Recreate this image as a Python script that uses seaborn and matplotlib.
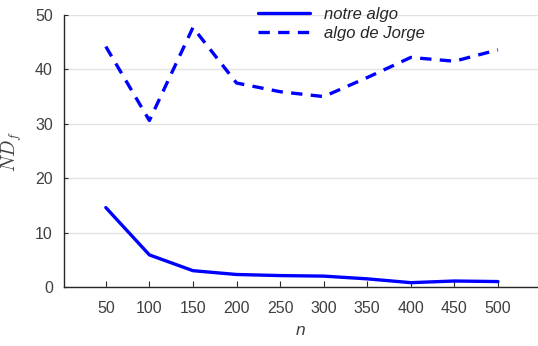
import matplotlib
matplotlib.use("Agg")
import matplotlib.pyplot as plt
import seaborn as sns
import pandas as pd

n_values = [50, 100, 150, 200, 250, 300, 350, 400, 450, 500]
notre_algo = [14.6, 5.9, 3.0, 2.3, 2.1, 2.0, 1.5, 0.8, 1.1, 1.0]
algo_jorge = [44.2, 30.6, 47.7, 37.5, 35.9, 35.0, 38.5, 42.2, 41.5, 43.6]
series_names = ["notre algo", "algo de Jorge"]
y_ticks = [0, 10, 20, 30, 40, 50]

df = pd.DataFrame({
    "n": n_values * 2,
    "val": notre_algo + algo_jorge,
    "serie": [series_names[0]] * len(n_values) + [series_names[1]] * len(n_values),
})

sns.set_style("white")
plt.rcParams["font.family"] = ["Liberation Sans", "DejaVu Sans"]
plt.rcParams["mathtext.fontset"] = "cm"

fig = plt.figure(figsize=(5.38, 3.46), dpi=100)
ax = fig.add_axes([64 / 538, 59 / 346, 474 / 538, 272 / 346])

sns.lineplot(data=df, x="n", y="val", hue="serie", style="serie",
             palette={series_names[0]: "#0000ff", series_names[1]: "#0000ff"},
             dashes={series_names[0]: "", series_names[1]: (3.4, 2.5)},
             linewidth=2.4, ax=ax)

ax.set_xlim(2, 546)
ax.set_ylim(0, 50)
ax.set_xticks(n_values)
ax.set_yticks(y_ticks)
ax.yaxis.grid(True, color="#e3e3e3", linewidth=1)
ax.xaxis.grid(False)
ax.set_axisbelow(True)
ax.spines["top"].set_visible(False)
ax.spines["right"].set_visible(False)
for s in ["left", "bottom"]:
    ax.spines[s].set_color("#262626")
    ax.spines[s].set_linewidth(1.0)
ax.tick_params(axis="x", bottom=True, direction="in", length=4, width=0.8,
               colors="#262626", labelcolor="#404040", labelsize=11.5, pad=10)
ax.tick_params(axis="y", left=True, direction="in", length=3, width=0.8,
               colors="#262626", labelcolor="#404040", labelsize=11.5, pad=8)

ax.set_xlabel("n", fontsize=12.5, style="italic", color="#404040", labelpad=5)
ax.set_ylabel("$ND_f$", fontsize=14, color="#404040", labelpad=8)

leg = ax.legend(loc="upper left", bbox_to_anchor=(0.409, 1.03), frameon=False,
                fontsize=12, handlelength=3.1, labelspacing=0.25,
                handletextpad=0.85, borderpad=0, borderaxespad=0)
for t in leg.get_texts():
    t.set_fontstyle("italic")
    t.set_color("#262626")

fig.savefig("out.png", dpi=100)
